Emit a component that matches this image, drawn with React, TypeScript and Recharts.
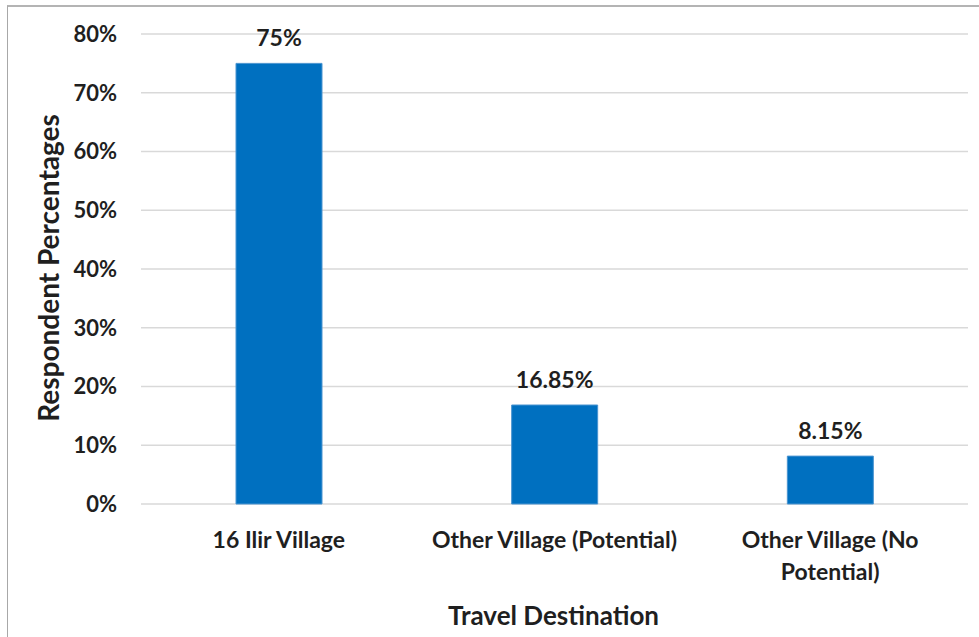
import React from 'react';
import { BarChart, Bar, XAxis, YAxis, CartesianGrid, LabelList, Label } from 'recharts';

const categories = ['16 Ilir Village', 'Other Village (Potential)', 'Other Village (No Potential)'];
const tickLines = [['16 Ilir Village'], ['Other Village (Potential)'], ['Other Village (No', 'Potential)']];
const percentages = [75, 16.85, 8.15];
const yTicks = [0, 10, 20, 30, 40, 50, 60, 70, 80];
const xTitle = 'Travel Destination';
const yTitle = 'Respondent Percentages';

const data = categories.map((c, i) => ({ name: c, value: percentages[i] }));

const FONT = 'Lato, "Open Sans", sans-serif';
const TXT = '#1f1f1f';

const XTick = (props: any) => {
  const { x, y, payload } = props;
  const idx = categories.indexOf(payload.value);
  const lines = idx >= 0 ? tickLines[idx] : [String(payload.value)];
  return (
    <g>
      {lines.map((l: string, i: number) => (
        <text key={i} x={x} y={y + 35 + i * 32} textAnchor="middle" dominantBaseline="central"
          fontFamily={FONT} fontWeight={700} fontSize={23} fill={TXT}>{l}</text>
      ))}
    </g>
  );
};

export default function App() {
  return (
    <div style={{ position: 'absolute', left: 0, top: 0, width: 979, height: 637, background: '#fff', overflow: 'hidden' }}>
      <div style={{ position: 'absolute', left: 7, top: 5, width: 990, height: 650, borderTop: '2px solid #b4b4b4', borderLeft: '1px solid #a8a8a8' }} />
      <div style={{ position: 'absolute', left: 0, top: 0 }}>
        <BarChart width={979} height={637} data={data} margin={{ top: 34, right: 11, bottom: 53, left: 81 }} barCategoryGap={0}>
          <CartesianGrid horizontal vertical={false} stroke="#d9d9d9" strokeWidth={1.5} />
          <XAxis dataKey="name" axisLine={false} tickLine={false} tickSize={0} tickMargin={0} height={80}
            interval={0} tick={<XTick />}>
            <Label content={(p: any) => {
              const vb = p.viewBox;
              return (
                <text x={vb.x + vb.width / 2 - 1} y={vb.y + 111} textAnchor="middle" dominantBaseline="central"
                  fontFamily={FONT} fontWeight={700} fontSize={26} fill={TXT}>{xTitle}</text>
              );
            }} />
          </XAxis>
          <YAxis domain={[0, 80]} ticks={yTicks} axisLine={false} tickLine={false} tickSize={0} tickMargin={24} width={60}
            tickFormatter={(v: number) => `${v}%`}
            tick={{ fontFamily: FONT, fontWeight: 700, fontSize: 22, fill: TXT }}>
            <Label content={(p: any) => {
              const vb = p.viewBox;
              const cx = vb.x - 33;
              const cy = vb.y + vb.height / 2 - 1;
              return (
                <text x={cx} y={cy} transform={`rotate(-90 ${cx} ${cy})`} textAnchor="middle" dominantBaseline="central"
                  fontFamily={FONT} fontWeight={700} fontSize={28} fill={TXT}>{yTitle}</text>
              );
            }} />
          </YAxis>
          <Bar dataKey="value" fill="#0070c0" stroke="#4a94d0" strokeWidth={1} barSize={86} isAnimationActive={false}>
            <LabelList dataKey="value" position="top" offset={17} formatter={(v: any) => `${v}%`}
              style={{ fontFamily: FONT, fontWeight: 700, fontSize: 23, fill: TXT }} />
          </Bar>
        </BarChart>
      </div>
    </div>
  );
}
